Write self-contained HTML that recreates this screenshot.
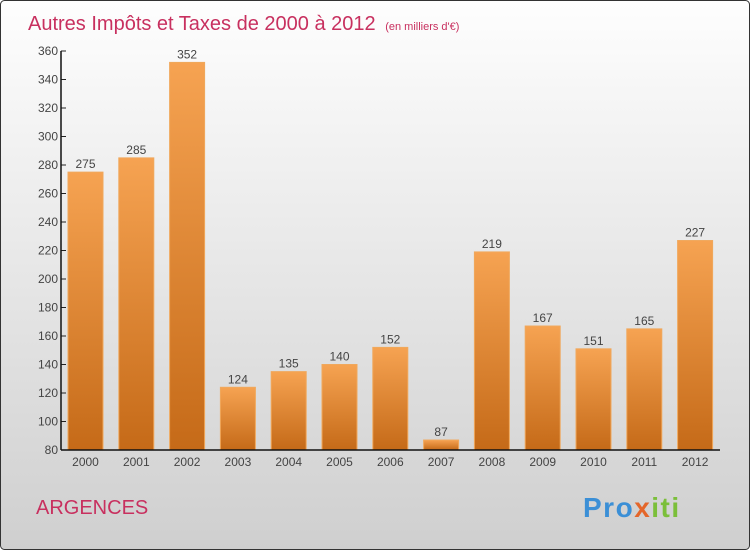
<!DOCTYPE html>
<html><head><meta charset="utf-8"><style>
html,body{margin:0;padding:0}
body{width:750px;height:550px;overflow:hidden;font-family:"Liberation Sans",sans-serif}
</style></head><body>
<svg width="750" height="550" xmlns="http://www.w3.org/2000/svg">
<defs>
<linearGradient id="bg" x1="0" y1="0" x2="0" y2="1"><stop offset="0" stop-color="#fefefe"/><stop offset="1" stop-color="#cfcfcf"/></linearGradient>
<linearGradient id="bar" x1="0" y1="0" x2="0" y2="1"><stop offset="0" stop-color="#f6a352"/><stop offset="1" stop-color="#c56a18"/></linearGradient>
</defs>
<rect x="0.5" y="0.5" width="749" height="549" rx="4" fill="url(#bg)" stroke="#333"/>
<text x="28" y="30" font-size="20" fill="#c8305f">Autres Impôts et Taxes de 2000 à 2012 <tspan font-size="11" dx="4">(en milliers d'€)</tspan></text>
<g id="grid"></g>
<g id="bars"></g>
<g id="axes"></g>
<text x="36" y="514" font-size="20" fill="#c8305f">ARGENCES</text>
<text x="583" y="517" font-size="28" font-weight="bold" fill="#3b8fd6" letter-spacing="1.5">Pro<tspan fill="#e4662a">x</tspan><tspan fill="#7bbf3a">iti</tspan></text>
</svg>
<script>
const years=["2000","2001","2002","2003","2004","2005","2006","2007","2008","2009","2010","2011","2012"];
const values=[275,285,352,124,135,140,152,87,219,167,151,165,227];
const yTicks=[80,100,120,140,160,180,200,220,240,260,280,300,320,340,360];
const NS="http://www.w3.org/2000/svg";
const x0=61,x1=720,yTop=51,yBot=450,vMin=80,vMax=360;
const y=v=>yBot-(v-vMin)/(vMax-vMin)*(yBot-yTop);
const step=50.8,first=85.5,bw=35;
const xc=i=>first+i*step;
function mk(t,a,p){const e=document.createElementNS(NS,t);for(const k in a)e.setAttribute(k,a[k]);p.appendChild(e);return e;}
const ax=document.getElementById('axes'),bars=document.getElementById('bars');
yTicks.forEach(v=>{
 const t=mk('line',{x1:x0,x2:x0+5,y1:y(v),y2:y(v),stroke:'#222'},ax);
 
 
 const l=mk('text',{x:x0-3,y:y(v)+4,'text-anchor':'end','font-size':12,fill:'#444'},ax);
 l.textContent=v;
 
 
});
values.forEach((v,i)=>{
 const r=mk('rect',{x:xc(i)-bw/2,y:y(v),width:bw,height:yBot-y(v),fill:'url(#bar)',stroke:'#f0a85c','stroke-width':1},bars);
 
 
 const t=mk('text',{x:xc(i),y:y(v)-4,'text-anchor':'middle','font-size':12,fill:'#444'},bars);
 t.textContent=v;
 
 
 const xl=mk('text',{x:xc(i),y:466,'text-anchor':'middle','font-size':12,fill:'#444'},ax);
 xl.textContent=years[i];
 
 
});
const ya=mk('line',{x1:x0,x2:x0,y1:yTop,y2:yBot,stroke:'#111','stroke-width':1.5},ax);


const xa=mk('line',{x1:x0,x2:x1,y1:yBot,y2:yBot,stroke:'#111','stroke-width':1.5},ax);


</script>
</body></html>
